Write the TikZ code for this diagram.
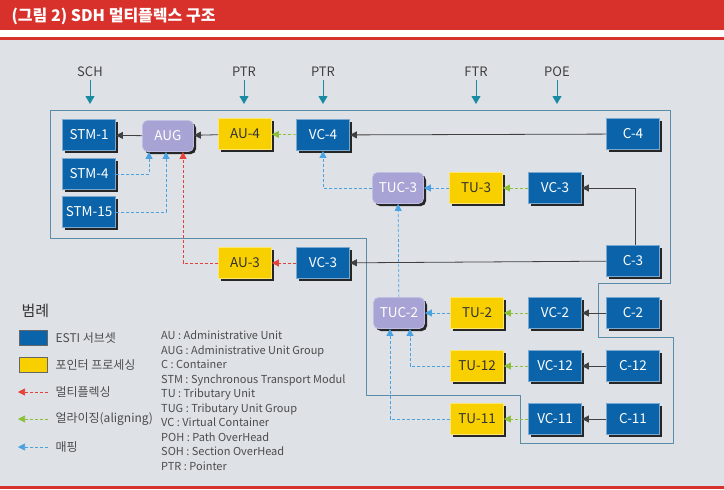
\documentclass[tikz,border=0pt]{standalone}
\usepackage{fontspec}
\setmainfont{Noto Sans CJK KR}
\usepackage{xcolor}
\usepackage{tikz}
\usetikzlibrary{arrows.meta,positioning}

\definecolor{estiblue}{HTML}{0B63A9}
\definecolor{ptryellow}{HTML}{F8D000}
\definecolor{tuclav}{HTML}{A7A3D4}
\definecolor{bgcol}{HTML}{DEE2E7}
\definecolor{titlered}{HTML}{D8302B}
\definecolor{muxred}{HTML}{E5423C}
\definecolor{aligngreen}{HTML}{8CC03A}
\definecolor{mapblue}{HTML}{4BA2E0}
\definecolor{markteal}{HTML}{1A8AA2}
\definecolor{framecol}{HTML}{5C8DA8}

\begin{document}
\begin{tikzpicture}[x=1pt, y=-1pt,
    box/.style={minimum width=53pt, minimum height=31pt, inner sep=0pt, line width=0.8pt,
        font=\fontsize{13.5}{13.5}\selectfont,
        preaction={fill=black!85, transform canvas={xshift=2.5pt, yshift=-2.5pt}}},
    esti/.style={box, fill=estiblue, draw=estiblue!55!white, text=white},
    ptrbox/.style={box, fill=ptryellow, draw=ptryellow!55!white, text=black!80},
    tuc/.style={box, minimum width=51pt, rounded corners=5pt, fill=tuclav, draw=tuclav!70!white, text=white},
    linkln/.style={draw=black!75, line width=0.8pt, -{Triangle[length=7pt, width=7pt]}},
    muxln/.style={draw=muxred, line width=0.7pt, dash pattern=on 3pt off 2pt, -{Triangle[length=7pt, width=7pt]}},
    alignln/.style={draw=aligngreen, line width=0.7pt, dash pattern=on 3pt off 2pt, -{Triangle[length=7pt, width=7pt]}},
    mapln/.style={draw=mapblue, line width=0.7pt, dash pattern=on 3pt off 2pt, -{Triangle[length=7pt, width=7pt]}},
    marker/.style={draw=markteal, line width=1pt, -{Triangle[length=8pt, width=9pt]}},
    toplbl/.style={font=\fontsize{13}{13}\selectfont, text=black!75},
    legbox/.style={minimum width=28pt, minimum height=15pt, inner sep=0pt, draw=black!60, line width=0.5pt},
    legtext/.style={anchor=west, font=\fontsize{12}{12}\selectfont, text=black!70},
]
    \useasboundingbox (0,0) rectangle (724,490);
    \fill[white] (0,0) rectangle (724,490);
    \fill[titlered] (0,0) rectangle (724,30);
    \fill[titlered] (0,37) rectangle (724,40);
    \fill[bgcol] (0,40) rectangle (724,486);
    \fill[titlered] (0,486) rectangle (724,489);
    \node[anchor=west, text=white, font=\fontsize{16}{16}\selectfont\bfseries] (title) at (8,16) {(그림 2) SDH 멀티플렉스 구조};

    \draw[framecol, line width=0.8pt] (50,110) -- (670,110) -- (670,283) -- (598,283) -- (598,337)
        -- (673,337) -- (673,443) -- (520,443) -- (520,395) -- (366,395) -- (366,238) -- (50,238) -- cycle;

    \node[toplbl] (sch) at (90,72) {SCH};
    \node[toplbl] (ptra) at (244,72) {PTR};
    \node[toplbl] (ptrb) at (323,72) {PTR};
    \node[toplbl] (ftr) at (476,72) {FTR};
    \node[toplbl] (poe) at (557,72) {POE};
    \coordinate (schend) at (90,104);
    \coordinate (ptraend) at (244,104);
    \coordinate (ptrbend) at (323,104);
    \coordinate (ftrend) at (476,104);
    \coordinate (poeend) at (557,104);
    \draw[marker] (sch) -- (schend);
    \draw[marker] (ptra) -- (ptraend);
    \draw[marker] (ptrb) -- (ptrbend);
    \draw[marker] (ftr) -- (ftrend);
    \draw[marker] (poe) -- (poeend);

    \node[esti] (stm1) at (89,135) {STM-1};
    \node[esti] (stm4) at (89,174) {STM-4};
    \node[esti] (stm15) at (89,212) {STM-15};
    \node[tuc] (aug) at (168,136) {AUG};
    \node[ptrbox] (au4) at (245,134) {AU-4};
    \node[esti] (vc4) at (323,135) {VC-4};
    \node[esti] (c4) at (633,134) {C-4};

    \node[tuc] (tuc3) at (398,188) {TUC-3};
    \node[ptrbox] (tu3) at (476,188) {TU-3};
    \node[esti] (vc3a) at (555,188) {VC-3};

    \node[ptrbox] (au3) at (245,263) {AU-3};
    \node[esti] (vc3b) at (323,263) {VC-3};
    \node[esti] (c3) at (633,261) {C-3};

    \node[tuc] (tuc2) at (399,313) {TUC-2};
    \node[ptrbox] (tu2) at (477,313) {TU-2};
    \node[esti] (vc2) at (555,313) {VC-2};
    \node[esti] (c2) at (633,313) {C-2};
    \node[ptrbox] (tu12) at (477,366) {TU-12};
    \node[esti] (vc12) at (555,366) {VC-12};
    \node[esti] (c12) at (633,366) {C-12};
    \node[ptrbox] (tu11) at (477,419) {TU-11};
    \node[esti] (vc11) at (555,419) {VC-11};
    \node[esti] (c11) at (633,419) {C-11};

    \draw[linkln] (c4) -- (vc4);
    \draw[alignln] (vc4) -- (au4);
    \draw[linkln] (au4) -- (aug);
    \draw[linkln] (aug) -- (stm1);
    \draw[mapln] (stm4.east) -| ([xshift=-19pt]aug.south);
    \draw[mapln] (stm15.east) -| ([xshift=-2pt]aug.south);
    \draw[muxln] (au3.west) -| ([xshift=15pt]aug.south);
    \draw[muxln] (vc3b) -- (au3);
    \draw[linkln] (c3) -- (vc3b);
    \draw[linkln] ([xshift=2pt]c3.north) |- (vc3a.east);
    \draw[alignln] (vc3a) -- (tu3);
    \draw[mapln] (tu3) -- (tuc3);
    \draw[mapln] (tuc3.west) -| (vc4.south);
    \draw[mapln] (tuc2) -- (tuc3);
    \draw[mapln] (tu2) -- (tuc2);
    \draw[mapln] (tu12.west) -| ([xshift=11pt]tuc2.south);
    \draw[mapln] (tu11.west) -| ([xshift=-9pt]tuc2.south);
    \draw[alignln] (vc2) -- (tu2);
    \draw[alignln] (vc12) -- (tu12);
    \draw[alignln] (vc11) -- (tu11);
    \draw[linkln] (c2) -- (vc2);
    \draw[linkln] (c12) -- (vc12);
    \draw[linkln] (c11) -- (vc11);

    \node[anchor=west, font=\fontsize{15}{15}\selectfont, text=black!80] (legend) at (18,311) {범례};
    \node[legbox, fill=estiblue] (kesti) at (33,338) {};
    \node[legtext] (testi) at (52,338) {ESTI 서브셋};
    \node[legbox, fill=ptryellow] (kptr) at (33,365) {};
    \node[legtext] (tptr) at (52,365) {포인터 프로세싱};
    \coordinate (muxa) at (48,392);
    \coordinate (muxb) at (18,392);
    \draw[muxln] (muxa) -- (muxb);
    \node[legtext] (tmux) at (52,392) {멀티플렉싱};
    \coordinate (aligna) at (48,419);
    \coordinate (alignb) at (18,419);
    \draw[alignln] (aligna) -- (alignb);
    \node[legtext] (talign) at (52,419) {얼라이징(aligning)};
    \coordinate (mapa) at (48,447);
    \coordinate (mapb) at (18,447);
    \draw[mapln] (mapa) -- (mapb);
    \node[legtext] (tmap) at (52,447) {매핑};

    \node[anchor=north west, align=left, inner sep=0pt, text=black!70,
        font=\fontsize{11}{14.5}\selectfont] (abbr) at (161,331) {AU : Administrative Unit\\
        AUG : Administrative Unit Group\\
        C : Container\\
        STM : Synchronous Transport Modul\\
        TU : Tributary Unit\\
        TUG : Tributary Unit Group\\
        VC : Virtual Container\\
        POH : Path OverHead\\
        SOH : Section OverHead\\
        PTR : Pointer};
\end{tikzpicture}
\end{document}
